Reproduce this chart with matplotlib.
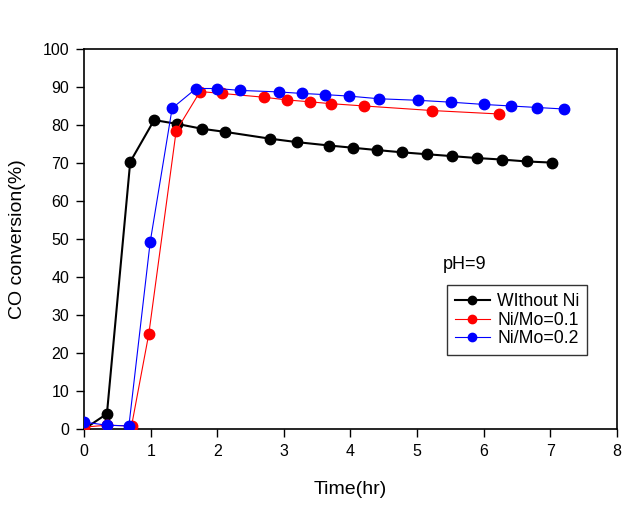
import numpy as np
import matplotlib.pyplot as plt

plt.rcParams['font.family'] = ['Liberation Sans', 'DejaVu Sans']

# Without Ni
t_black = [0, 0.34, 0.69, 1.05, 1.39, 1.77, 2.11, 2.79, 3.19, 3.68, 4.04,
           4.40, 4.78, 5.15, 5.53, 5.90, 6.28, 6.65, 7.03]
y_black = [0, 4.0, 70.3, 81.3, 80.3, 79.0, 78.2, 76.4, 75.5, 74.6, 74.0,
           73.4, 72.8, 72.3, 71.8, 71.3, 70.9, 70.4, 70.1]

# Ni/Mo=0.1
t_red = [0, 0.34, 0.71, 0.97, 1.38, 1.74, 2.07, 2.70, 3.04, 3.39, 3.71,
         4.21, 5.23, 6.23]
y_red = [0.5, 1.0, 0.8, 25.1, 78.4, 88.8, 88.3, 87.3, 86.6, 86.1, 85.6,
         85.0, 83.8, 82.9]

# Ni/Mo=0.2
t_blue = [0, 0.34, 0.67, 0.99, 1.32, 1.68, 2.00, 2.34, 2.92, 3.27, 3.61,
          3.98, 4.43, 5.01, 5.51, 6.01, 6.41, 6.81, 7.21]
y_blue = [1.8, 1.0, 0.8, 49.2, 84.4, 89.6, 89.6, 89.1, 88.7, 88.3, 88.0,
          87.6, 86.9, 86.5, 86.0, 85.4, 85.0, 84.6, 84.2]

fig = plt.figure(figsize=(6.31, 5.05), dpi=100)
ax = fig.add_axes([0.1336, 0.1505, 0.8437, 0.7525])

ax.plot(t_black, y_black, color='black', lw=1.5, marker='o', ms=7.5,
        label='WIthout Ni', zorder=3)
ax.plot(t_red, y_red, color='red', lw=0.8, marker='o', ms=7.5,
        label='Ni/Mo=0.1', zorder=4)
ax.plot(t_blue, y_blue, color='blue', lw=0.8, marker='o', ms=7.5,
        label='Ni/Mo=0.2', zorder=5)

ax.set_xlim(0, 8)
ax.set_ylim(0, 100)
ax.set_xticks(np.arange(0, 9, 1))
ax.set_yticks(np.arange(0, 101, 10))
ax.tick_params(direction='out', length=6, width=1, labelsize=11.5, pad=5)
for s in ax.spines.values():
    s.set_linewidth(1.2)

ax.set_xlabel('Time(hr)', fontsize=14, labelpad=16)
ax.set_ylabel('CO conversion(%)', fontsize=14, labelpad=12)

ax.text(5.39, 43.2, 'pH=9', fontsize=13, va='center', ha='left')

leg = ax.legend(loc='upper left', bbox_to_anchor=(0.681, 0.379), fontsize=12.7,
                frameon=True, fancybox=False, edgecolor='black',
                handlelength=2.0, handletextpad=0.4, borderpad=0.45,
                labelspacing=0.1, borderaxespad=0, markerscale=0.8)
leg.get_frame().set_linewidth(1.0)

fig.savefig('out.png', dpi=100)
